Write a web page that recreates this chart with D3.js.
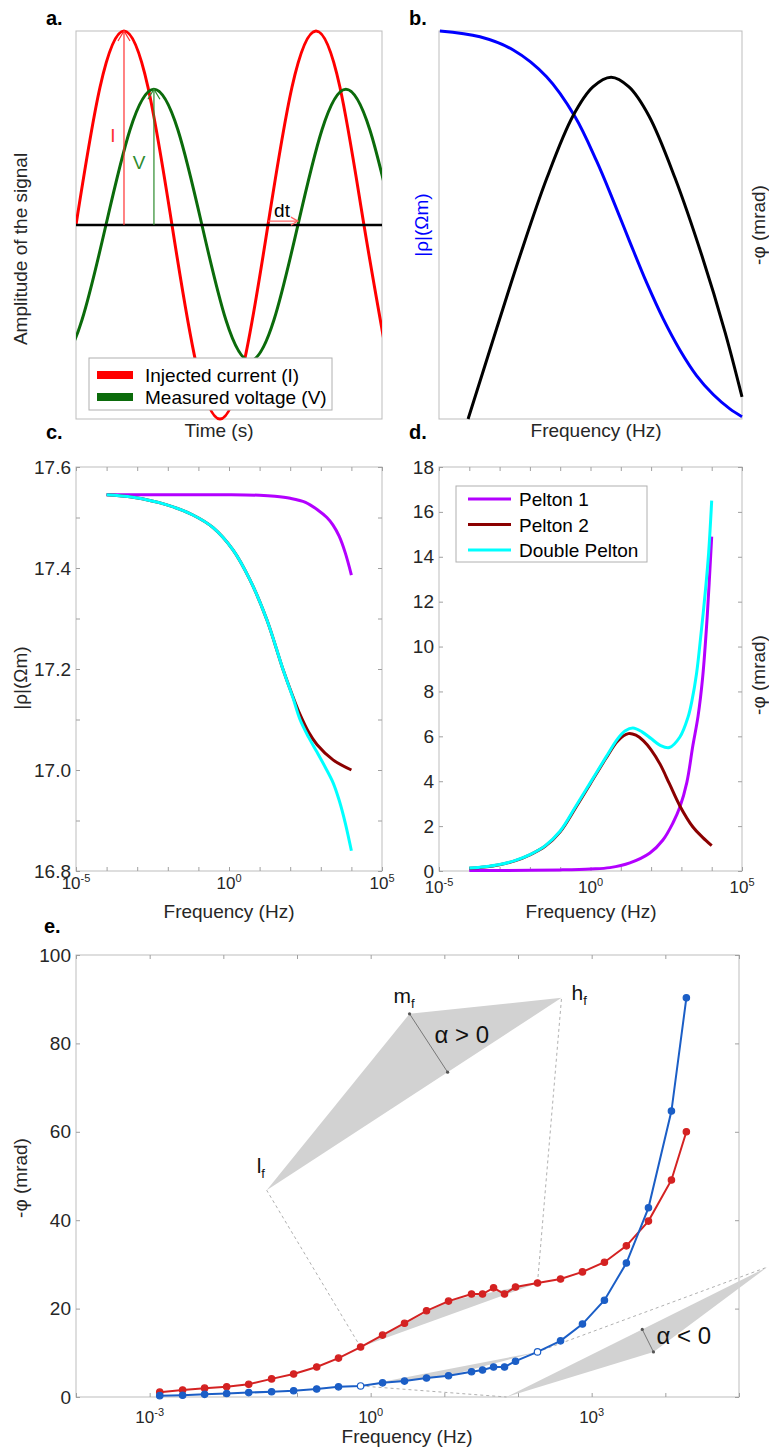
<!DOCTYPE html>
<html>
<head>
<meta charset="utf-8">
<script src="https://cdn.jsdelivr.net/npm/d3@7"></script>
<style>
  body { margin: 0; background: #fff; }
</style>
</head>
<body>
<script>
// ---------- data ----------

// a. signals, time in periods, amplitude normalised to the current peak
const aTimeI = [0, 0.125, 0.25, 0.375, 0.5, 0.625, 0.75, 0.875, 1, 1.125, 1.25, 1.375, 1.5, 1.625];
const aCurrent = [0, 0.71, 1, 0.71, 0, -0.71, -1, -0.71, 0, 0.71, 1, 0.71, 0, -0.71];
const aTimeV = [-0.219, -0.094, 0.031, 0.156, 0.281, 0.406, 0.531, 0.656, 0.781, 0.906, 1.031, 1.156, 1.281, 1.406, 1.531, 1.656];
const aVoltage = [-0.49, -0.70, -0.49, 0, 0.49, 0.70, 0.49, 0, -0.49, -0.70, -0.49, 0, 0.49, 0.70, 0.49, 0];
const aLegend = ["Injected current (I)", "Measured voltage (V)"];

// b. schematic amplitude / phase vs (log) frequency, arbitrary units
const bFreq = [0.03, 1.35, 2.45, 3.55, 4.49, 5.20, 5.75, 6.30, 6.86, 7.40, 7.95, 8.50, 9.05, 9.60, 10];
const bRho = [1.0, 0.985, 0.951, 0.882, 0.779, 0.665, 0.563, 0.456, 0.350, 0.258, 0.178, 0.112, 0.063, 0.026, 0.006];
const bPhaseFreq = [0.96, 1.91, 2.67, 3.56, 4.42, 5.08, 5.68, 6.27, 6.93, 7.79, 8.68, 9.44, 10];
const bPhase = [0, 0.235, 0.420, 0.621, 0.781, 0.856, 0.881, 0.856, 0.781, 0.621, 0.420, 0.224, 0.057];

// c. |rho| (Ohm m), frequency given as log10(Hz)
const cExpP1 = [-4, -3, -2, -1, 0, 1, 1.5, 2, 2.5, 2.9, 3.2, 3.4, 3.6, 3.8, 4];
const cRhoP1 = [17.545, 17.545, 17.545, 17.545, 17.545, 17.544, 17.542, 17.538, 17.530, 17.515, 17.500, 17.485, 17.463, 17.430, 17.386];
const cExpP2 = [-4, -3.14, -2.03, -1.18, -0.52, 0.13, 0.69, 1.24, 1.76, 2.09, 2.32, 2.6, 2.88, 3.4, 4];
const cRhoP2 = [17.545, 17.54, 17.525, 17.505, 17.48, 17.436, 17.376, 17.297, 17.2, 17.145, 17.11, 17.075, 17.05, 17.02, 17.0];
const cExpDP = [-4, -3.14, -2.03, -1.18, -0.52, 0.13, 0.69, 1.24, 1.76, 2.09, 2.32, 2.6, 2.88, 3.15, 3.4, 3.6, 3.8, 4];
const cRhoDP = [17.545, 17.54, 17.525, 17.505, 17.48, 17.436, 17.376, 17.297, 17.2, 17.143, 17.1, 17.065, 17.035, 17.005, 16.975, 16.94, 16.895, 16.84];
const cTicks = [16.8, 16.9, 17.0, 17.1, 17.2, 17.3, 17.4, 17.5, 17.6];

// d. -phase (mrad)
const dExpP1 = [-4, -3, -2, -1, 0, 0.64, 1.3, 1.96, 2.39, 2.72, 2.95, 3.18, 3.38, 3.55, 3.7, 3.85, 4];
const dPhiP1 = [0.02, 0.02, 0.03, 0.05, 0.09, 0.15, 0.36, 0.8, 1.38, 2.14, 2.85, 3.95, 5.6, 6.9, 8.6, 11.3, 14.9];
const dExpP2 = [-4, -3.5, -3, -2.5, -2, -1.5, -1, -0.5, 0, 0.5, 0.9, 1.25, 1.5, 1.75, 2, 2.3, 2.6, 2.95, 3.38, 3.7, 4];
const dPhiP2 = [0.12, 0.18, 0.28, 0.45, 0.72, 1.1, 1.75, 2.8, 3.9, 5.0, 5.8, 6.12, 6.05, 5.8, 5.4, 4.75, 3.9, 2.9, 1.96, 1.5, 1.13];
const dExpDP = [-4, -3.5, -3, -2.5, -2, -1.5, -1, -0.5, 0, 0.5, 0.9, 1.15, 1.4, 1.7, 2, 2.3, 2.6, 2.95, 3.22, 3.35, 3.5, 3.65, 3.8, 3.9, 4];
const dPhiDP = [0.13, 0.19, 0.29, 0.46, 0.73, 1.12, 1.78, 2.85, 3.95, 5.05, 5.9, 6.25, 6.37, 6.2, 5.9, 5.6, 5.5, 5.97, 6.86, 7.6, 8.8, 10.6, 12.6, 14.2, 16.5];
const dTicks = [0, 2, 4, 6, 8, 10, 12, 14, 16, 18];
const dLegend = ["Pelton 1", "Pelton 2", "Double Pelton"];

// e. measured spectra, frequency (Hz) and -phase (mrad)
const eFreq = [0.00137, 0.0028, 0.00557, 0.0111, 0.0221, 0.0452, 0.09, 0.185, 0.366, 0.73, 1.45, 2.88, 5.73, 11.4,
  23.4, 33, 46.6, 65.6, 92.5, 184, 378, 750, 1490, 2960, 5900, 12100, 19300];
const ePhiRed = [1.1, 1.6, 2.0, 2.3, 2.9, 4.1, 5.2, 6.8, 8.8, 11.3, 14.0, 16.7, 19.5, 21.7,
  23.3, 23.3, 24.7, 23.3, 24.9, 25.8, 26.7, 28.3, 30.5, 34.2, 39.8, 49.1, 60.0];
const ePhiBlue = [0.3, 0.4, 0.6, 0.8, 1.0, 1.2, 1.4, 1.8, 2.3, 2.5, 3.2, 3.6, 4.3, 4.8,
  5.7, 6.1, 6.8, 6.8, 8.1, 10.2, 12.7, 16.5, 21.9, 30.3, 42.8, 64.7, 90.3];
const eTicks = [0, 20, 40, 60, 80, 100];
// indices of l_f, m_f, h_f on the spectra
const eSpan = [9, 13, 19];
// enlarged sketches: [frequency, -phase] for l_f, m_f, h_f
const eUpperTri = [[0.0387, 46.8], [3.37, 86.7], [390, 90.3]];
const eLowerTri = [[69.8, 0], [6900, 10.2], [2.43e5, 29.4]];

// ---------- helpers ----------
const font = "'Liberation Sans', Arial, Helvetica, sans-serif";
const txt = "#262626";
const boxC = "#bdbdbd";
const tickC = "#a0a0a0";

const svg = d3.select("body").append("svg")
  .attr("width", 769).attr("height", 1453)
  .style("font-family", font);

function box(x0, y0, w, h) {
  svg.append("rect").attr("x", x0).attr("y", y0).attr("width", w).attr("height", h)
    .attr("fill", "none").attr("stroke", boxC).attr("stroke-width", 1);
}

function styleAxis(g, size) {
  g.select(".domain").remove();
  g.selectAll(".tick line").attr("stroke", tickC);
  g.selectAll(".tick text").attr("fill", txt).style("font-size", (size || 19) + "px").style("font-family", font);
}

function logXAxis(x, yTop, yBot, exps, labelExps, labelY, size) {
  const vals = exps.map(e => Math.pow(10, e));
  svg.append("g").attr("transform", `translate(0,${yBot})`)
    .call(d3.axisBottom(x).tickValues(vals).tickSizeInner(-4).tickSizeOuter(0).tickFormat(""))
    .call(styleAxis);
  svg.append("g").attr("transform", `translate(0,${yTop})`)
    .call(d3.axisTop(x).tickValues(vals).tickSizeInner(-4).tickSizeOuter(0).tickFormat(""))
    .call(styleAxis);
  labelExps.forEach(e => {
    const t = svg.append("text").attr("x", x(Math.pow(10, e))).attr("y", labelY)
      .attr("text-anchor", "middle").attr("fill", txt).style("font-size", size + "px");
    t.append("tspan").text("10");
    t.append("tspan").attr("dy", -0.42 * size).style("font-size", Math.round(size * 0.62) + "px")
      .text(e < 0 ? "-" + (-e) : String(e));
  });
}

function linYAxis(y, xL, xR, ticks, fmt) {
  svg.append("g").attr("transform", `translate(${xL},0)`)
    .call(d3.axisLeft(y).tickValues(ticks).tickSizeInner(-4).tickSizeOuter(0).tickPadding(5).tickFormat(fmt))
    .call(styleAxis);
  svg.append("g").attr("transform", `translate(${xR},0)`)
    .call(d3.axisRight(y).tickValues(ticks).tickSizeInner(-4).tickSizeOuter(0).tickFormat(""))
    .call(styleAxis);
}

function label(x, y, s, opts = {}) {
  const t = svg.append("text").attr("x", x).attr("y", y)
    .attr("text-anchor", opts.anchor || "middle")
    .attr("fill", opts.color || txt)
    .style("font-size", (opts.size || 19) + "px")
    .style("font-weight", opts.bold ? "bold" : "normal")
    .text(s);
  if (opts.rotate) t.attr("transform", `rotate(-90,${x},${y})`).attr("dominant-baseline", "middle");
  return t;
}

function zip(a, b) { return a.map((v, i) => [v, b[i]]); }

// ---------- a. ----------
const ax = d3.scaleLinear().domain([0, 1.594]).range([76, 382]);
const ay = d3.scaleLinear().domain([-1, 1]).range([419, 31]);
box(76, 31, 306, 388);
svg.append("clipPath").attr("id", "clipA").append("rect").attr("x", 76).attr("y", 29).attr("width", 306).attr("height", 392);

const aLine = d3.line().x(d => ax(d[0])).y(d => ay(d[1])).curve(d3.curveNatural);
const ga = svg.append("g").attr("clip-path", "url(#clipA)");
ga.append("path").datum(zip(aTimeI, aCurrent)).attr("d", aLine)
  .attr("fill", "none").attr("stroke", "#ff0000").attr("stroke-width", 3);
ga.append("path").datum(zip(aTimeV, aVoltage)).attr("d", aLine)
  .attr("fill", "none").attr("stroke", "#0b6b0b").attr("stroke-width", 3);
svg.append("line").attr("x1", ax(0)).attr("x2", ax(1.594)).attr("y1", ay(0)).attr("y2", ay(0))
  .attr("stroke", "#000").attr("stroke-width", 2.5);

// amplitude arrows
function upArrow(t, v, color) {
  const px = ax(t), py = ay(v);
  svg.append("line").attr("x1", px).attr("x2", px).attr("y1", ay(0)).attr("y2", py)
    .attr("stroke", color).attr("stroke-width", 1.2);
  svg.append("path").attr("d", `M${px - 6},${py + 10}L${px},${py}L${px + 6},${py + 10}`)
    .attr("fill", "none").attr("stroke", color).attr("stroke-width", 1.2);
}
upArrow(0.25, 1, "#ff3030");
upArrow(0.406, 0.70, "#2e8b2e");
// phase shift arrow
{
  const x1 = ax(1), x2 = ax(1.156), py = ay(0.02);
  svg.append("line").attr("x1", x1).attr("x2", x2).attr("y1", py).attr("y2", py)
    .attr("stroke", "#ff6060").attr("stroke-width", 1.2);
  svg.append("path").attr("d", `M${x2 - 7},${py - 4}L${x2},${py}L${x2 - 7},${py + 4}`)
    .attr("fill", "none").attr("stroke", "#ff6060").attr("stroke-width", 1.2);
}
label(113, 142, "I", { color: "#ff3030" });
label(139, 169, "V", { color: "#2e8b2e" });
label(282, 217, "dt", { color: "#000" });

// legend a
svg.append("rect").attr("x", 89).attr("y", 358).attr("width", 243).attr("height", 52)
  .attr("fill", "#fff").attr("stroke", "#b0b0b0");
[["#ff0000", 375], ["#0b6b0b", 397]].forEach(([c, yy], i) => {
  svg.append("rect").attr("x", 97).attr("y", yy - 4).attr("width", 36).attr("height", 8).attr("fill", c);
  label(145, yy + 6.5, aLegend[i], { anchor: "start", color: "#000" });
});

label(46, 25, "a.", { anchor: "start", bold: true, size: 20, color: "#000" });
label(22, 249, "Amplitude of the signal", { rotate: true });
label(219, 437, "Time (s)");

// ---------- b. ----------
const bx = d3.scaleLinear().domain([0, 10]).range([439, 742]);
const by = d3.scaleLinear().domain([0, 1]).range([419, 31]);
box(439, 31, 303, 388);
const bLine = d3.line().x(d => bx(d[0])).y(d => by(d[1])).curve(d3.curveCatmullRom.alpha(0.5));
svg.append("path").datum(zip(bFreq, bRho)).attr("d", bLine)
  .attr("fill", "none").attr("stroke", "#0000ff").attr("stroke-width", 3);
svg.append("path").datum(zip(bPhaseFreq, bPhase)).attr("d", bLine)
  .attr("fill", "none").attr("stroke", "#000").attr("stroke-width", 3);
label(409, 25, "b.", { anchor: "start", bold: true, size: 20, color: "#000" });
label(423, 225, "|ρ|(Ωm)", { rotate: true, color: "#0000ff" });
label(760, 225, "-φ (mrad)", { rotate: true });
label(596, 437, "Frequency (Hz)");

// ---------- c. ----------
const cx = d3.scaleLog().domain([1e-5, 1e5]).range([76, 382]);
const cy = d3.scaleLinear().domain([16.8, 17.6]).range([871, 467]);
box(76, 467, 306, 404);
const decades = [-5, -4, -3, -2, -1, 0, 1, 2, 3, 4, 5];
logXAxis(cx, 467, 871, decades, [-5, 0, 5], 889, 17);
linYAxis(cy, 76, 382, cTicks, d => (Math.round(d * 10) % 2 === 0 ? d3.format(".1f")(d) : ""));
const cLine = d3.line().x(d => cx(Math.pow(10, d[0]))).y(d => cy(d[1])).curve(d3.curveCatmullRom.alpha(0.5));
[[cExpP1, cRhoP1, "#b300ff"], [cExpP2, cRhoP2, "#8b0000"], [cExpDP, cRhoDP, "#00ffff"]].forEach(([e, v, c]) => {
  svg.append("path").datum(zip(e, v)).attr("d", cLine)
    .attr("fill", "none").attr("stroke", c).attr("stroke-width", 3);
});
label(46, 439, "c.", { anchor: "start", bold: true, size: 20, color: "#000" });
label(22, 678, "|ρ|(Ωm)", { rotate: true });
label(229, 918, "Frequency (Hz)");

// ---------- d. ----------
const dx = d3.scaleLog().domain([1e-5, 1e5]).range([439, 742]);
const dy = d3.scaleLinear().domain([0, 18]).range([871, 467]);
box(439, 467, 303, 404);
logXAxis(dx, 467, 871, decades, [-5, 0, 5], 893, 17);
linYAxis(dy, 439, 742, dTicks, d3.format("d"));
const dLine = d3.line().x(d => dx(Math.pow(10, d[0]))).y(d => dy(d[1])).curve(d3.curveCatmullRom.alpha(0.5));
const dSeries = [[dExpP1, dPhiP1, "#b300ff"], [dExpP2, dPhiP2, "#8b0000"], [dExpDP, dPhiDP, "#00ffff"]];
dSeries.forEach(([e, v, c]) => {
  svg.append("path").datum(zip(e, v)).attr("d", dLine)
    .attr("fill", "none").attr("stroke", c).attr("stroke-width", 3);
});
svg.append("rect").attr("x", 456).attr("y", 486).attr("width", 191).attr("height", 76)
  .attr("fill", "#fff").attr("stroke", "#b0b0b0");
dSeries.forEach(([, , c], i) => {
  const yy = 499 + i * 25.5;
  svg.append("line").attr("x1", 468).attr("x2", 511).attr("y1", yy).attr("y2", yy)
    .attr("stroke", c).attr("stroke-width", 3);
  label(519, yy + 7, dLegend[i], { anchor: "start", color: "#000" });
});
label(409, 439, "d.", { anchor: "start", bold: true, size: 20, color: "#000" });
label(760, 675, "-φ (mrad)", { rotate: true });
label(591, 918, "Frequency (Hz)");

// ---------- e. ----------
const ex = d3.scaleLog().domain([1e-4, 1e5]).range([76, 739]);
const ey = d3.scaleLinear().domain([0, 100]).range([1397, 955]);
box(76, 955, 663, 442);
logXAxis(ex, 955, 1397, [-4, -3, -2, -1, 0, 1, 2, 3, 4, 5], [-3, 0, 3], 1423, 17);
linYAxis(ey, 76, 739, eTicks, d3.format("d"));

const P = d => [ex(d[0]), ey(d[1])];
const redPts = zip(eFreq, ePhiRed);
const bluePts = zip(eFreq, ePhiBlue);
const gray = "#d2d2d2";

function tri(pts) {
  svg.append("path").attr("d", "M" + pts.map(P).map(p => p.join(",")).join("L") + "Z")
    .attr("fill", gray).attr("stroke", "none");
}
// shaded spans between l_f and h_f on each spectrum
tri(eSpan.map(i => redPts[i]));
tri(eSpan.map(i => bluePts[i]));
// enlarged sketches
tri(eUpperTri);
tri(eLowerTri);

function dashed(a, b) {
  const pa = P(a), pb = P(b);
  svg.append("line").attr("x1", pa[0]).attr("y1", pa[1]).attr("x2", pb[0]).attr("y2", pb[1])
    .attr("stroke", "#b0b0b0").attr("stroke-width", 1).attr("stroke-dasharray", "3,3");
}
dashed(redPts[eSpan[0]], eUpperTri[0]);
dashed(redPts[eSpan[2]], eUpperTri[2]);
dashed(bluePts[eSpan[0]], eLowerTri[0]);
dashed(bluePts[eSpan[2]], eLowerTri[2]);

function foot(p, a, b) {
  const vx = b[0] - a[0], vy = b[1] - a[1];
  const t = ((p[0] - a[0]) * vx + (p[1] - a[1]) * vy) / (vx * vx + vy * vy);
  return [a[0] + t * vx, a[1] + t * vy];
}
function alphaMark(t3) {
  const l = P(t3[0]), m = P(t3[1]), h = P(t3[2]);
  const f = foot(m, l, h);
  svg.append("line").attr("x1", m[0]).attr("y1", m[1]).attr("x2", f[0]).attr("y2", f[1])
    .attr("stroke", "#777").attr("stroke-width", 1);
  [m, f].forEach(p => svg.append("circle").attr("cx", p[0]).attr("cy", p[1]).attr("r", 1.6).attr("fill", "#555"));
  return m;
}
const mUp = alphaMark(eUpperTri);
const mLo = alphaMark(eLowerTri);

const eLine = d3.line().x(d => ex(d[0])).y(d => ey(d[1]));
[[redPts, "#d42222"], [bluePts, "#1b5ec6"]].forEach(([pts, c], k) => {
  svg.append("path").datum(pts).attr("d", eLine)
    .attr("fill", "none").attr("stroke", c).attr("stroke-width", 2);
  svg.selectAll(null).data(pts).join("circle")
    .attr("cx", d => ex(d[0])).attr("cy", d => ey(d[1])).attr("r", 3.2)
    .attr("fill", (d, i) => (k === 1 && (i === eSpan[0] || i === eSpan[2])) ? "#fff" : c)
    .attr("stroke", c).attr("stroke-width", 1.2);
});

function sub(x, y, main) {
  const t = svg.append("text").attr("x", x).attr("y", y).attr("fill", "#111").style("font-size", "21px");
  t.append("tspan").text(main);
  t.append("tspan").attr("dy", 5).style("font-size", "13px").text("f");
}
const lUp = P(eUpperTri[0]), hUp = P(eUpperTri[2]);
sub(lUp[0] - 10, lUp[1] - 17, "l");
sub(mUp[0] - 16, mUp[1] - 11, "m");
sub(hUp[0] + 10, hUp[1] + 2, "h");
label(mUp[0] + 25, mUp[1] + 29, "α > 0", { anchor: "start", size: 24, color: "#111" });
label(mLo[0] + 3, mLo[1] - 8, "α < 0", { anchor: "start", size: 24, color: "#111" });

label(44, 933, "e.", { anchor: "start", bold: true, size: 20, color: "#000" });
label(22, 1178, "-φ (mrad)", { rotate: true });
label(407, 1443, "Frequency (Hz)");
</script>
</body>
</html>
